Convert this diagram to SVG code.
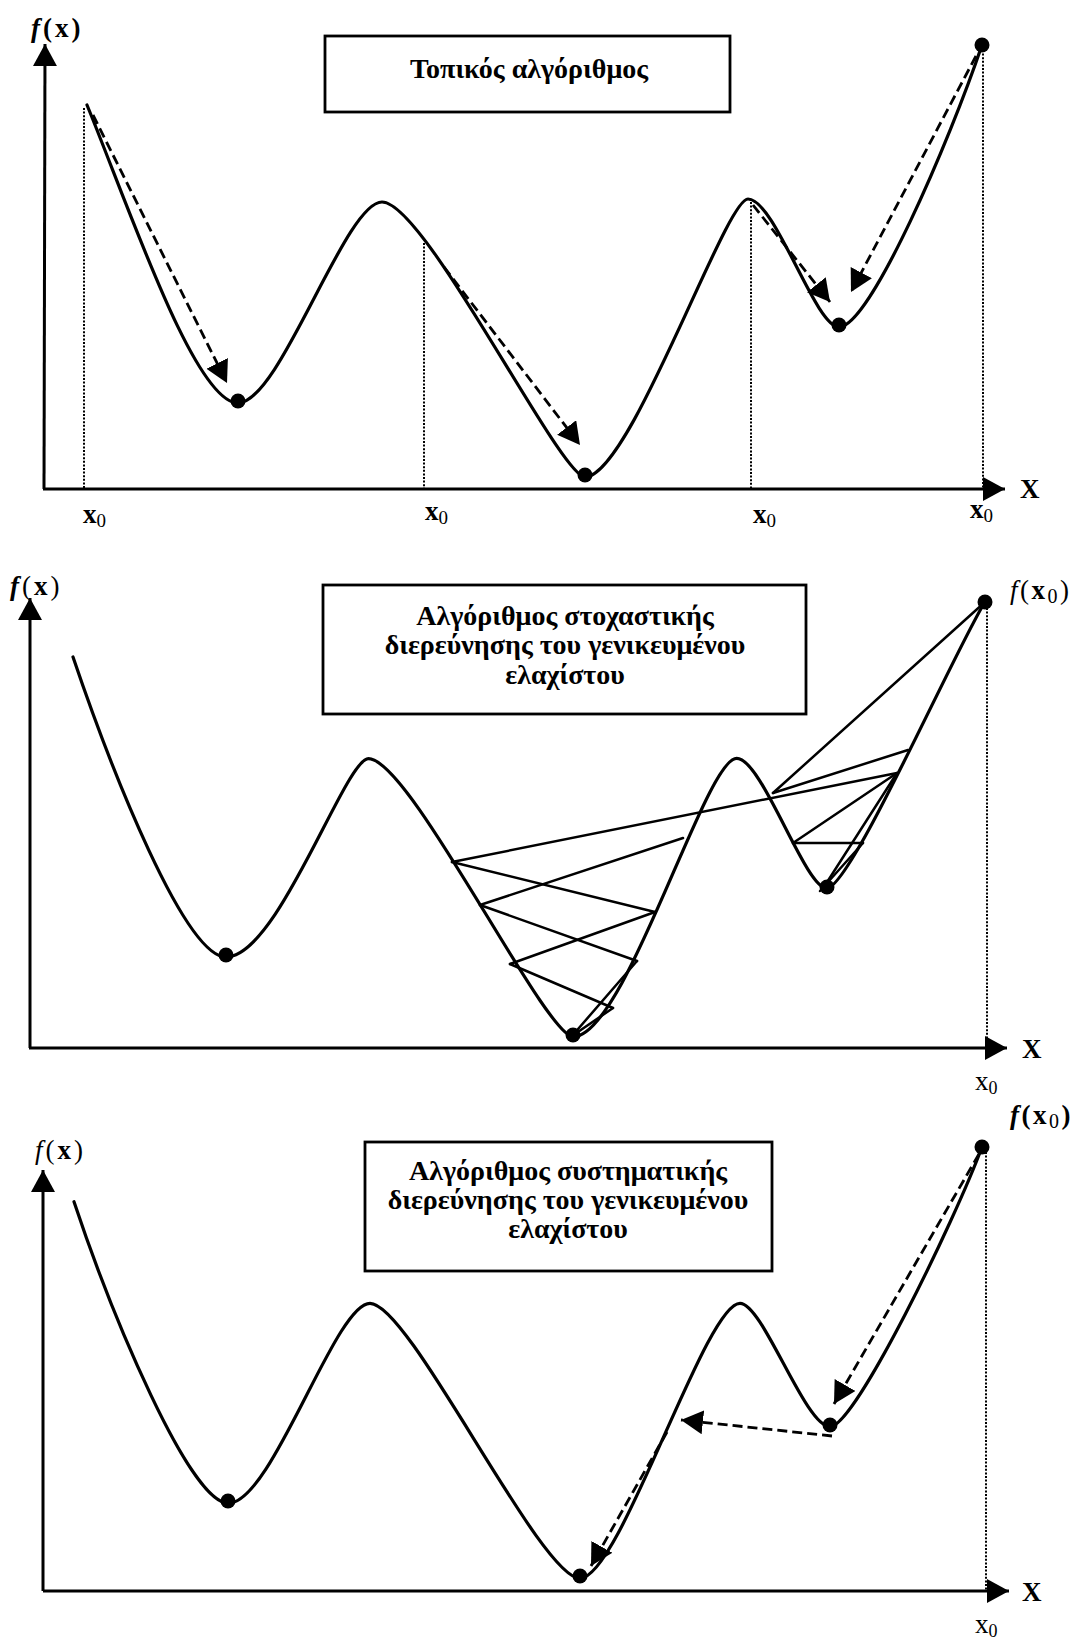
<svg xmlns="http://www.w3.org/2000/svg" width="1079" height="1640" viewBox="0 0 1079 1640">
<style>
.crv{fill:none;stroke:#000;stroke-width:3.2;stroke-linejoin:round;stroke-linecap:round}
.ax{fill:none;stroke:#000;stroke-width:3}
.dot{fill:#000}
.dotted{fill:none;stroke:#000;stroke-width:2;stroke-dasharray:2 1.6}
.dash{fill:none;stroke:#000;stroke-width:2.8;stroke-dasharray:10 5}
.ln{fill:none;stroke:#000;stroke-width:2.5;stroke-linecap:round}
.box{fill:#fff;stroke:#000;stroke-width:2.8}
.bt{font-family:"Liberation Serif","Times New Roman",serif;font-weight:bold;font-size:28px;text-anchor:middle}
.lbl{font-family:"Liberation Serif","Times New Roman",serif;font-size:27px}
</style>
<defs>
<marker id="ah" markerUnits="userSpaceOnUse" markerWidth="26" markerHeight="26" refX="22" refY="12" orient="auto">
<path d="M0,0 L22,12 L0,24 Z" fill="#000"/>
</marker>
</defs>

<!-- ===== Panel 1 ===== -->
<g id="panel1">
<g id="p1-axes">
<line class="ax" x1="44" y1="489" x2="45" y2="44" marker-end="url(#ah)"/>
<line class="ax" x1="43" y1="489" x2="1005" y2="489" marker-end="url(#ah)"/>
<text class="lbl" x="31" y="37" font-size="30" letter-spacing="3"><tspan font-style="italic" font-weight="bold">f</tspan><tspan font-weight="bold">(x)</tspan></text>
<text class="lbl" x="1020" y="498" font-size="27" font-weight="bold">X</text>
</g>
<g id="p1-box">
<rect class="box" x="325" y="36" width="405" height="76"/>
<text class="bt" x="529" y="78">Τοπικός αλγόριθμος</text>
</g>
<g id="p1-curve">
<path class="crv" d="M87,105 C130,210 195,403 238,403 C280,403 345,202 382,202 C425,202 560,477 585,477 C630,477 725,199 748,199 C775,199 815,327 839,327 C870,327 950,140 982,45"/>
<circle class="dot" cx="238" cy="401" r="7.5"/>
<circle class="dot" cx="585" cy="475" r="7.5"/>
<circle class="dot" cx="839" cy="325" r="7.5"/>
<circle class="dot" cx="982" cy="45" r="7.5"/>
</g>
<g id="p1-dotted">
<line class="dotted" x1="84" y1="108" x2="84" y2="489"/>
<line class="dotted" x1="424" y1="243" x2="424" y2="489"/>
<line class="dotted" x1="751" y1="202" x2="751" y2="489"/>
<line class="dotted" x1="983" y1="50" x2="983" y2="489"/>
</g>
<g id="p1-x0">
<text class="lbl" x="83" y="523" font-weight="bold" font-size="28">x<tspan font-weight="normal" font-size="19" dy="4">0</tspan></text>
<text class="lbl" x="425" y="520" font-weight="bold" font-size="28">x<tspan font-weight="normal" font-size="19" dy="4">0</tspan></text>
<text class="lbl" x="753" y="523" font-weight="bold" font-size="28">x<tspan font-weight="normal" font-size="19" dy="4">0</tspan></text>
<text class="lbl" x="970" y="518" font-weight="bold" font-size="28">x<tspan font-weight="normal" font-size="19" dy="4">0</tspan></text>
</g>
<g id="p1-connectors">
<line class="dash" x1="93" y1="115" x2="227" y2="383" marker-end="url(#ah)"/>
<line class="dash" x1="444" y1="267" x2="580" y2="445" marker-end="url(#ah)"/>
<line class="dash" x1="753" y1="205" x2="830" y2="302" marker-end="url(#ah)"/>
<line class="dash" x1="976" y1="56" x2="851" y2="292" marker-end="url(#ah)"/>
</g>
</g>

<!-- ===== Panel 2 ===== -->
<g id="panel2">
<g id="p2-axes">
<line class="ax" x1="30" y1="1048" x2="30" y2="598" marker-end="url(#ah)"/>
<line class="ax" x1="29" y1="1048" x2="1007" y2="1048" marker-end="url(#ah)"/>
<text class="lbl" x="10" y="595" font-size="30" letter-spacing="3"><tspan font-style="italic" font-weight="bold">f</tspan>(<tspan font-weight="bold">x</tspan>)</text>
<text class="lbl" x="1022" y="1058" font-size="27" font-weight="bold">X</text>
<text class="lbl" x="1010" y="599" font-size="30" letter-spacing="2.5"><tspan font-style="italic">f</tspan>(<tspan font-weight="bold">x</tspan><tspan font-size="20" dy="4">0</tspan><tspan dy="-4">)</tspan></text>
<text class="lbl" x="975" y="1090" font-size="25">x<tspan font-size="18" dy="4">0</tspan></text>
</g>
<g id="p2-box">
<rect class="box" x="323" y="585" width="483" height="129"/>
<text class="bt" x="565" y="625">Αλγόριθμος στοχαστικής</text>
<text class="bt" x="565" y="654">διερεύνησης του γενικευμένου</text>
<text class="bt" x="565" y="684">ελαχίστου</text>
</g>
<g id="p2-curve">
<path class="crv" d="M73,657 C112,772 185,957 226,957 C278,957 345,758.7 368.5,758.7 C410,758.7 545,1036.7 573.3,1036.7 C625,1036.7 705,758.3 736.7,758.3 C762,758.3 805,888.3 826.7,888.3 C850,888.3 950,660 985,601.7"/>
<line class="dotted" x1="987" y1="608" x2="987" y2="1048"/>
</g>
<g id="p2-connectors">
<line class="ln" x1="985" y1="602" x2="773" y2="793"/>
<line class="ln" x1="773" y1="793" x2="908" y2="750"/>
<line class="ln" x1="452" y1="862" x2="897" y2="773"/>
<line class="ln" x1="897" y1="773" x2="793" y2="843"/>
<line class="ln" x1="793" y1="843" x2="863" y2="843"/>
<line class="ln" x1="863" y1="843" x2="820" y2="891"/>
<line class="ln" x1="897" y1="773" x2="822" y2="890"/>
<line class="ln" x1="452" y1="862" x2="655" y2="912"/>
<line class="ln" x1="480" y1="905" x2="683" y2="838"/>
<line class="ln" x1="480" y1="905" x2="637" y2="961"/>
<line class="ln" x1="510" y1="964" x2="655" y2="912"/>
<line class="ln" x1="510" y1="964" x2="613" y2="1008"/>
<line class="ln" x1="637" y1="961" x2="572" y2="1036"/>
<line class="ln" x1="613" y1="1008" x2="572" y2="1036"/>
</g>
<g id="p2-dots">
<circle class="dot" cx="226" cy="955" r="7.5"/>
<circle class="dot" cx="573" cy="1035" r="7.5"/>
<circle class="dot" cx="827" cy="887" r="7.5"/>
<circle class="dot" cx="985" cy="602" r="7.5"/>
</g>
</g>

<!-- ===== Panel 3 ===== -->
<g id="panel3">
<g id="p3-axes">
<line class="ax" x1="43" y1="1591" x2="43" y2="1170" marker-end="url(#ah)"/>
<line class="ax" x1="43" y1="1591" x2="1009" y2="1591" marker-end="url(#ah)"/>
<text class="lbl" x="35" y="1159" font-size="30" letter-spacing="3"><tspan font-style="italic">f</tspan>(<tspan font-weight="bold">x</tspan>)</text>
<text class="lbl" x="1022" y="1601" font-size="27" font-weight="bold">X</text>
<text class="lbl" x="1010" y="1124" font-size="30" font-weight="bold" letter-spacing="2.5"><tspan font-style="italic">f</tspan>(x<tspan font-weight="normal" font-size="20" dy="4">0</tspan><tspan dy="-4">)</tspan></text>
<text class="lbl" x="975" y="1633" font-size="25">x<tspan font-size="18" dy="4">0</tspan></text>
</g>
<g id="p3-box">
<rect class="box" x="365" y="1142" width="407" height="129"/>
<text class="bt" x="568" y="1180">Αλγόριθμος συστηματικής</text>
<text class="bt" x="568" y="1209">διερεύνησης του γενικευμένου</text>
<text class="bt" x="568" y="1238">ελαχίστου</text>
</g>
<g id="p3-curve">
<path class="crv" d="M74,1201.7 C112,1316 190,1503.3 228.3,1503.3 C272,1503.3 335,1303.3 370,1303.3 C410,1303.3 540,1578.3 580,1578.3 C620,1578.3 705,1303.3 740,1303.3 C763,1303.3 805,1426.7 830,1426.7 C855,1426.7 955,1220 982,1147"/>
<line class="dotted" x1="986" y1="1152" x2="986" y2="1591"/>
</g>
<g id="p3-connectors">
<line class="dash" x1="979" y1="1154" x2="834" y2="1404" marker-end="url(#ah)"/>
<line class="dash" x1="832" y1="1436" x2="681" y2="1420" marker-end="url(#ah)"/>
<line class="dash" x1="667" y1="1432" x2="591" y2="1566" marker-end="url(#ah)"/>
</g>
<g id="p3-dots">
<circle class="dot" cx="228" cy="1501" r="7.5"/>
<circle class="dot" cx="580" cy="1576" r="7.5"/>
<circle class="dot" cx="830" cy="1425" r="7.5"/>
<circle class="dot" cx="982" cy="1147" r="7.5"/>
</g>
</g>
</svg>
